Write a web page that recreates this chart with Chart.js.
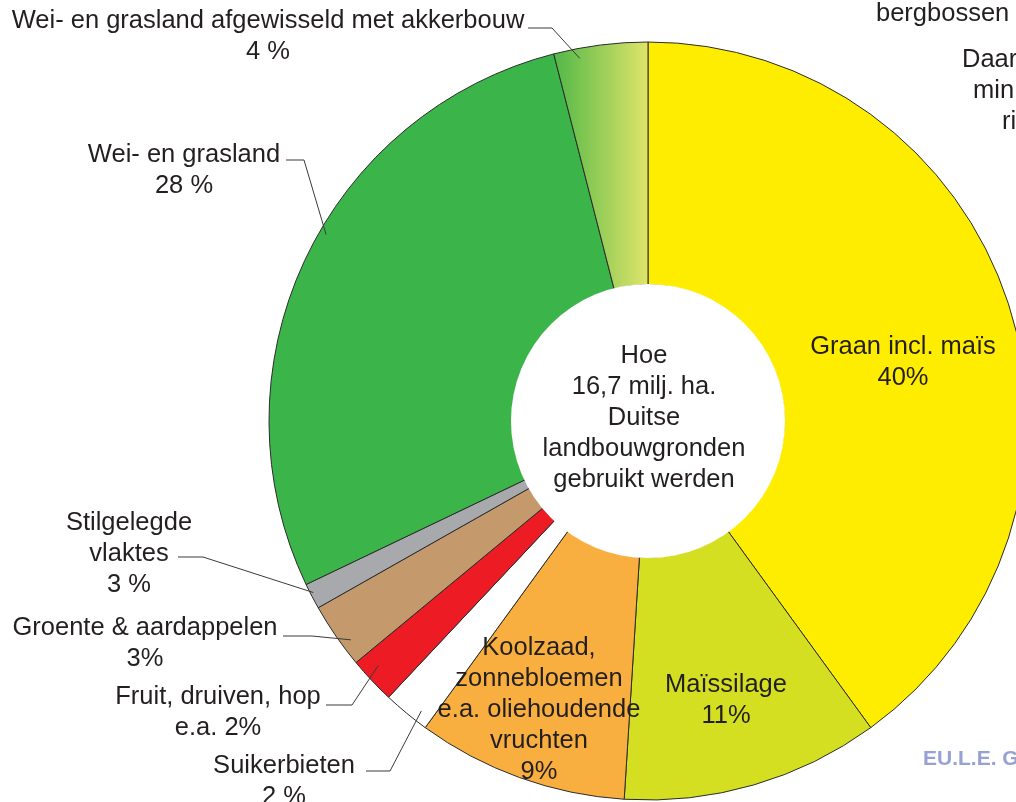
<!DOCTYPE html>
<html>
<head>
<meta charset="utf-8">
<script src="https://cdn.jsdelivr.net/npm/chart.js@4/dist/chart.umd.min.js"></script>
<style>
  html, body { margin: 0; padding: 0; background: #fff; overflow: hidden; }
  #chart { display: block; }
</style>
</head>
<body>
<canvas id="chart" width="1016" height="802"></canvas>
<script>
// land use, clockwise from 12 o'clock
var categories = [
  "Graan incl. maïs",
  "Maïssilage",
  "Koolzaad, zonnebloemen e.a. oliehoudende vruchten",
  "Suikerbieten",
  "Fruit, druiven, hop e.a.",
  "Groente & aardappelen",
  "Stilgelegde vlaktes",
  "Wei- en grasland",
  "Wei- en grasland afgewisseld met akkerbouw"
];
// slice sizes as drawn (percent of the circle)
var shares = [40, 11, 9, 2, 2, 2.8, 1.1, 28.1, 4];

// printed label text per slice
var labelLines = [
  ["Graan incl. maïs", "40%"],
  ["Maïssilage", "11%"],
  ["Koolzaad,", "zonnebloemen", "e.a. oliehoudende", "vruchten", "9%"],
  ["Suikerbieten", "2 %"],
  ["Fruit, druiven, hop", "e.a. 2%"],
  ["Groente & aardappelen", "3%"],
  ["Stilgelegde", "vlaktes", "3 %"],
  ["Wei- en grasland", "28 %"],
  ["Wei- en grasland afgewisseld met akkerbouw", "4 %"]
];
var centerLines = ["Hoe", "16,7 milj. ha.", "Duitse", "landbouwgronden", "gebruikt werden"];
var sideNotes = ["bergbossen", "Daar", "min", "ri"];
var sourceNote = "EU.L.E. G";

// styles
var sliceColors = ["#ffed00", "#d5df22", "#f9af3f", "#ffffff", "#ed1c24", "#c49a6c", "#a7a9ac", "#3bb54a", null];
var textColor = "#231f20";
var font = '25.5px "Liberation Sans", Arial, sans-serif';
var lineH = 31;
var R = 379;

// label placement: text centre x, first line y; leader = start, elbow, then point in slice (t along angle, d in from rim)
var labelPos = [
  { x: 903, y: 347 },
  { x: 726, y: 685 },
  { x: 539, y: 648 },
  { x: 284, y: 766, leader: [366, 771, 390, 771], t: 0.28, d: 11 },
  { x: 218, y: 697, leader: [326, 705, 352, 705], t: 0.64, d: 15 },
  { x: 145, y: 628, leader: [283, 636, 312, 636], t: 0.32, d: 10 },
  { x: 129, y: 523, leader: [178, 557, 203, 557], t: 0.6, d: 3 },
  { x: 184, y: 155, leader: [286, 160, 304, 160], t: 0.55, d: 7 },
  { x: 268, y: 21, leader: [528, 28, 552, 28], t: 0.26, d: 10 }
];
var sidePos = [[876, 14], [962, 60], [973, 91], [1002, 122]];

function sliceFill(c) {
  var col = sliceColors[c.dataIndex];
  if (col) return col;
  // last slice: green to yellow-green, left to right
  var area = c.chart.chartArea;
  if (!area) return "#9ccb4f";
  var cx = (area.left + area.right) / 2;
  var total = shares.reduce(function (a, b) { return a + b; }, 0);
  var before = 0;
  for (var i = 0; i < c.dataIndex; i++) before += shares[i];
  var ang = before / total * Math.PI * 2;
  var x0 = cx + R * Math.sin(ang);
  var g = c.chart.ctx.createLinearGradient(x0, 0, cx, 0);
  g.addColorStop(0, "#52b847");
  g.addColorStop(1, "#e0e46a");
  return g;
}

var labelPlugin = {
  id: "sliceLabels",
  afterDatasetsDraw: function (chart) {
    var ctx = chart.ctx;
    var arcs = chart.getDatasetMeta(0).data;
    var a0 = arcs[0];
    ctx.save();
    // white hole without outline
    ctx.beginPath();
    ctx.arc(a0.x, a0.y, a0.innerRadius + 1, 0, Math.PI * 2);
    ctx.fillStyle = "#fff";
    ctx.fill();

    ctx.font = font;
    ctx.fillStyle = textColor;
    ctx.textAlign = "center";
    ctx.textBaseline = "middle";
    centerLines.forEach(function (s, i) {
      ctx.fillText(s, 644, 356 + i * lineH);
    });

    // leaders
    ctx.strokeStyle = "#3a3a3a";
    ctx.lineWidth = 1;
    labelPos.forEach(function (p, i) {
      if (!p.leader) return;
      var a = arcs[i];
      var ang = a.startAngle + p.t * (a.endAngle - a.startAngle);
      var r = a.outerRadius - p.d;
      ctx.beginPath();
      ctx.moveTo(p.leader[0], p.leader[1]);
      ctx.lineTo(p.leader[2], p.leader[3]);
      ctx.lineTo(a.x + r * Math.cos(ang), a.y + r * Math.sin(ang));
      ctx.stroke();
    });

    // label text
    labelPos.forEach(function (p, i) {
      labelLines[i].forEach(function (s, k) {
        ctx.fillText(s, p.x, p.y + k * lineH);
      });
    });

    // cut-off text from the page around the chart
    ctx.textAlign = "left";
    sideNotes.forEach(function (s, i) {
      ctx.fillText(s, sidePos[i][0], sidePos[i][1]);
    });
    ctx.font = 'bold 21px "Liberation Sans", Arial, sans-serif';
    ctx.fillStyle = "#97a2d3";
    ctx.fillText(sourceNote, 923, 759);
    ctx.restore();
  }
};

var ctx1 = document.getElementById("chart");

var chart1 = new Chart(ctx1, {
  type: "doughnut",
  data: {
    labels: categories,
    datasets: [{
      data: shares,
      backgroundColor: sliceFill,
      borderColor: "#2b2b2b",
      borderWidth: 1,
      hoverOffset: 0,
      offset: 0,
      clip: false
    }]
  },
  options: {
    responsive: false,
    animation: false,
    events: [],
    radius: R,
    cutout: "35.9%",
    layout: { padding: { left: 348, right: 68, top: 121, bottom: 81 } },
    plugins: {
      legend: { display: false },
      tooltip: { enabled: false }
    }
  },
  plugins: [labelPlugin]
});
</script>
</body>
</html>
